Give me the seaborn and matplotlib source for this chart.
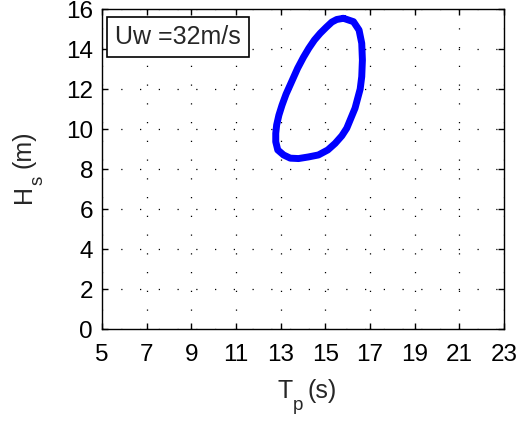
import matplotlib
matplotlib.use("Agg")
import matplotlib.pyplot as plt
import seaborn as sns
import pandas as pd

# Contour points (Tp in s, Hs in m), closed loop
tp_values = [15.81, 16.26, 16.51, 16.63, 16.66, 16.63, 16.56, 16.33, 15.96, 15.74,
             15.44, 15.11, 14.69, 14.24, 13.80, 13.43, 13.13, 12.87, 12.78, 12.78,
             12.82, 12.92, 13.06, 13.24, 13.50, 13.76, 14.02, 14.26, 14.51, 14.77,
             15.04, 15.29, 15.51, 15.81]
hs_values = [15.55, 15.38, 14.96, 14.30, 13.46, 12.63, 12.01, 11.05, 10.05, 9.67,
             9.29, 8.96, 8.71, 8.61, 8.53, 8.55, 8.71, 8.96, 9.37, 9.79,
             10.21, 10.70, 11.20, 11.75, 12.40, 13.05, 13.60, 14.05, 14.46, 14.80,
             15.10, 15.36, 15.49, 15.55]
x_ticks = [5, 7, 9, 11, 13, 15, 17, 19, 21, 23]
y_ticks = [0, 2, 4, 6, 8, 10, 12, 14, 16]
label_text = "Uw =32m/s"

sns.set_style("ticks")
plt.rcParams['font.family'] = ['Liberation Sans', 'DejaVu Sans']

W, H = 531, 421
fig = plt.figure(figsize=(W / 100, H / 100), dpi=100)
ax = fig.add_axes([102 / W, 1 - 329 / H, 402 / W, 319.7 / H])

df = pd.DataFrame({"Tp": tp_values, "Hs": hs_values})
sns.lineplot(data=df, x="Tp", y="Hs", sort=False, estimator=None,
             color="#0000ff", linewidth=5.0, ax=ax)
for ln in ax.lines:
    ln.set_solid_joinstyle("round")
    ln.set_solid_capstyle("round")

ax.set_xlim(5, 23)
ax.set_ylim(0, 16)
ax.set_xticks(x_ticks)
ax.set_yticks(y_ticks)
ax.grid(True, color="black", linestyle=(0, (1, 14)), linewidth=0.9)
ax.set_axisbelow(True)
for s in ax.spines.values():
    s.set_visible(True)
    s.set_linewidth(1.0)
    s.set_color("black")
ax.tick_params(direction="in", length=4, width=1.0, top=True, right=True,
               labelsize=17.5, colors="black")
ax.tick_params(axis="x", pad=11)
ax.tick_params(axis="y", pad=6.5)
ax.set_xlabel("")
ax.set_ylabel("")

def fx(px):
    return px / W

def fy(py):
    return 1 - py / H

# x label: T_p (s)
fig.text(fx(277), fy(398), "T", fontsize=18, ha="left", va="baseline")
fig.text(fx(293), fy(410), "p", fontsize=13.5, ha="left", va="baseline")
fig.text(fx(307.5), fy(398), "(s)", fontsize=18, ha="left", va="baseline")

# y label: H_s (m), rotated
fig.text(fx(30.7), fy(203), "H", fontsize=18, rotation=90,
         rotation_mode="anchor", ha="left", va="baseline")
fig.text(fx(42.7), fy(185), "s", fontsize=13.5, rotation=90,
         rotation_mode="anchor", ha="left", va="baseline")
fig.text(fx(30.7), fy(168), "(m)", fontsize=18, rotation=90,
         rotation_mode="anchor", ha="left", va="baseline")

ax.text((115 - 102) / 402, 1 - (25 - 9.3) / 319.7, label_text,
        transform=ax.transAxes, fontsize=18, ha="left", va="top",
        bbox=dict(boxstyle="square,pad=0.33", facecolor="white",
                  edgecolor="black", linewidth=1.2))

fig.savefig("out.png", dpi=100)
